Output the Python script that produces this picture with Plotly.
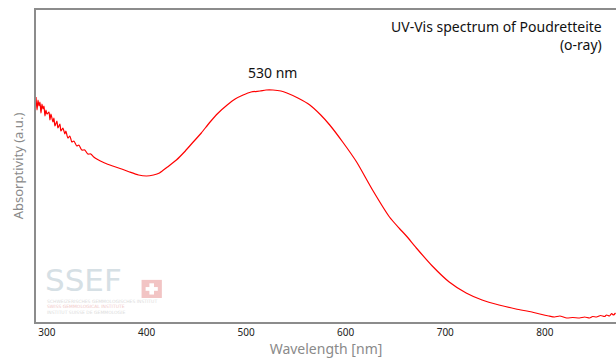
import plotly.graph_objects as go

wavelength = [289, 290, 291, 292, 293, 294, 295, 296, 297, 298, 299, 300, 302, 303, 304,
              306, 307, 308, 310, 311, 313, 314, 316, 318, 319, 321, 323, 325, 327, 330,
              332, 335, 338, 341, 344, 347, 350, 358, 366, 375, 383, 392, 400, 407, 413,
              421, 430, 438, 446, 455, 463, 472, 481, 489, 497, 505, 514, 520, 527, 535,
              541, 552, 564, 575, 584, 597, 611, 627, 644, 654, 661, 671, 687, 704, 721,
              737, 754, 771, 787, 795, 804, 810, 815, 822, 828, 835, 840, 845, 848, 852,
              856, 860, 862, 865, 867, 869, 871]
absorptivity = [2.25, 2.12, 2.22, 2.16, 2.20, 2.09, 2.18, 2.13, 2.16, 2.06, 2.12, 2.08, 2.10, 2.02, 2.08,
                2.00, 2.04, 1.96, 2.01, 1.94, 1.98, 1.91, 1.94, 1.88, 1.91, 1.84, 1.86, 1.80, 1.81, 1.76,
                1.77, 1.72, 1.72, 1.68, 1.68, 1.65, 1.63, 1.59, 1.56, 1.53, 1.50, 1.47, 1.46, 1.47, 1.49,
                1.55, 1.62, 1.70, 1.79, 1.89, 1.99, 2.09, 2.17, 2.23, 2.27, 2.30, 2.31, 2.32, 2.32, 2.31,
                2.29, 2.24, 2.17, 2.07, 1.97, 1.80, 1.60, 1.32, 1.05, 0.935, 0.86, 0.74, 0.56, 0.40, 0.29,
                0.22, 0.17, 0.13, 0.10, 0.08, 0.06, 0.05, 0.06, 0.04, 0.045, 0.04, 0.05, 0.04, 0.055, 0.05,
                0.065, 0.055, 0.07, 0.06, 0.085, 0.07, 0.09]

tick_vals = [300, 400, 500, 600, 700, 800]
tick_text = ["300", "400", "500", "600", "700", "800"]

title_lines = ["UV-Vis spectrum of Poudretteite", "(o-ray)"]
peak_label = "530 nm"
peak_wl = 527
peak_abs = 2.32

FONT = "Noto Sans"

fig = go.Figure()
fig.add_trace(go.Scatter(x=wavelength, y=absorptivity, mode="lines",
                         line=dict(color="#ff0000", width=1.2, shape="spline", smoothing=0.6),
                         showlegend=False, hoverinfo="skip"))

fig.update_layout(
    width=616, height=358,
    margin=dict(l=36, r=0, t=10, b=36),
    paper_bgcolor="white", plot_bgcolor="white",
    font=dict(family=FONT, color="#222"),
    xaxis=dict(range=[289, 871.5], tickvals=tick_vals, ticktext=tick_text,
               showgrid=False, zeroline=False, showline=True, linecolor="#8c8c8c",
               linewidth=1.5, mirror=True, ticks="", tickfont=dict(size=10, color="#222"),
               title=dict(text="Wavelength [nm]", font=dict(size=14, color="#8a8a8a"), standoff=4)),
    yaxis=dict(range=[0, 3.12], showticklabels=False, showgrid=False, zeroline=False,
               showline=True, linecolor="#8c8c8c", linewidth=1.5, ticks="",
               title=dict(text="Absorptivity (a.u.)", font=dict(size=13, color="#8a8a8a"), standoff=8)),
)

fig.add_annotation(xref="paper", yref="paper", x=0.979, y=0.985, xanchor="right", yanchor="top",
                   text=title_lines[0] + "<br>" + title_lines[1], align="right", showarrow=False,
                   font=dict(size=14, color="#111", family=FONT))
fig.add_annotation(x=peak_wl, y=peak_abs, xanchor="center", yanchor="bottom", yshift=6,
                   text=peak_label, showarrow=False, font=dict(size=14, color="#111", family=FONT))

# SSEF watermark
fig.add_annotation(xref="paper", yref="paper", x=0.012, y=0.07, xanchor="left", yanchor="bottom",
                   text="SSEF", showarrow=False,
                   font=dict(size=31, color="#d6e0e5", family="DejaVu Sans"))
fig.add_shape(type="rect", xref="paper", yref="paper", x0=0.182, x1=0.217, y0=0.077, y1=0.135,
              fillcolor="#f2c4c4", line=dict(width=0), layer="below")
fig.add_shape(type="rect", xref="paper", yref="paper", x0=0.1955, x1=0.2035, y0=0.088, y1=0.124,
              fillcolor="white", line=dict(width=0), layer="below")
fig.add_shape(type="rect", xref="paper", yref="paper", x0=0.189, x1=0.210, y0=0.1, y1=0.112,
              fillcolor="white", line=dict(width=0), layer="below")
small_lines = ["SCHWEIZERISCHES GEMMOLOGISCHES INSTITUT", "SWISS GEMMOLOGICAL INSTITUTE",
               "INSTITUT SUISSE DE GEMMOLOGIE"]
small_colors = ["#dcdcdc", "#f0c8c8", "#dcdcdc"]
for i, (t, c) in enumerate(zip(small_lines, small_colors)):
    fig.add_annotation(xref="paper", yref="paper", x=0.016, y=0.066 - i * 0.017,
                       xanchor="left", yanchor="middle", text=t, showarrow=False,
                       font=dict(size=4.5, color=c, family="DejaVu Sans"))

fig.write_html("out.html")
